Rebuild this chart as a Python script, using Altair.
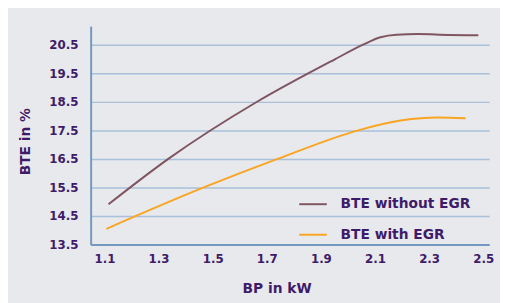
import altair as alt
import pandas as pd

series_names = ["BTE without EGR", "BTE with EGR"]

bp_without = [1.115, 1.336, 1.664, 1.95, 2.056, 2.12, 2.18, 2.26, 2.37, 2.482]
bte_without = [14.91, 16.5, 18.5, 19.98, 20.5, 20.76, 20.85, 20.87, 20.84, 20.83]

bp_with = [1.107, 1.467, 1.74, 2.038, 2.2, 2.33, 2.435]
bte_with = [14.05, 15.5, 16.5, 17.5, 17.85, 17.95, 17.92]

x_ticks = [1.1, 1.3, 1.5, 1.7, 1.9, 2.1, 2.3, 2.5]
y_ticks = [13.5, 14.5, 15.5, 16.5, 17.5, 18.5, 19.5, 20.5]

rows = []
for i, (x, y) in enumerate(zip(bp_without, bte_without)):
    rows.append({"series": series_names[0], "bp": x, "bte": y, "i": i})
for i, (x, y) in enumerate(zip(bp_with, bte_with)):
    rows.append({"series": series_names[1], "bp": x, "bte": y, "i": i})
df = pd.DataFrame(rows)

PURPLE = "#3e1b68"
AXIS_BLUE = "#7399c0"
GRID_BLUE = "#a9c0d8"
FONT = "DejaVu Sans"

chart = alt.Chart(df).mark_line(strokeWidth=2, interpolate="monotone").encode(
    x=alt.X("bp:Q",
            scale=alt.Scale(domain=[1.049, 2.522], nice=False, zero=False),
            axis=alt.Axis(values=x_ticks, format=".1f", grid=False, ticks=False,
                          domainColor=AXIS_BLUE, domainWidth=2,
                          labelFont=FONT, labelFontWeight="bold", labelFontSize=12,
                          labelColor=PURPLE, labelPadding=9, labelFlush=False,
                          title="BP in kW", titleFont=FONT, titleFontWeight="bold",
                          titleFontSize=14, titleColor=PURPLE,
                          titleX=189, titleY=49, titleBaseline="alphabetic",
                          titleAlign="center")),
    y=alt.Y("bte:Q",
            scale=alt.Scale(domain=[13.5, 21.15], nice=False, zero=False),
            axis=alt.Axis(values=y_ticks, format=".1f", grid=True, gridColor=GRID_BLUE,
                          gridWidth=1.5, ticks=False,
                          domainColor=AXIS_BLUE, domainWidth=2,
                          labelFont=FONT, labelFontWeight="bold", labelFontSize=12,
                          labelColor=PURPLE, labelPadding=13, labelFlush=False,
                          title="BTE in %", titleFont=FONT, titleFontWeight="bold",
                          titleFontSize=14, titleColor=PURPLE,
                          titleX=-62, titleY=117, titleAngle=270,
                          titleBaseline="alphabetic", titleAlign="center")),
    color=alt.Color("series:N",
                    scale=alt.Scale(domain=series_names, range=["#7f5560", "#f9a521"]),
                    sort=series_names,
                    legend=alt.Legend(title=None, orient="none", legendX=211, legendY=166,
                                      symbolType="stroke", symbolSize=784,
                                      symbolStrokeWidth=2, labelFont=FONT,
                                      labelFontWeight="bold", labelFontSize=14,
                                      labelColor=PURPLE, labelOffset=13,
                                      rowPadding=9, padding=0)),
    order="i:Q",
).properties(
    width=405,
    height=222,
    background="#e8e9ed",
    autosize=alt.AutoSizeParams(type="none"),
    padding={"left": 84, "top": 16, "right": 11, "bottom": 57},
).configure_view(stroke=None)

chart.save("out.html", embed_options={"renderer": "svg", "actions": False})
